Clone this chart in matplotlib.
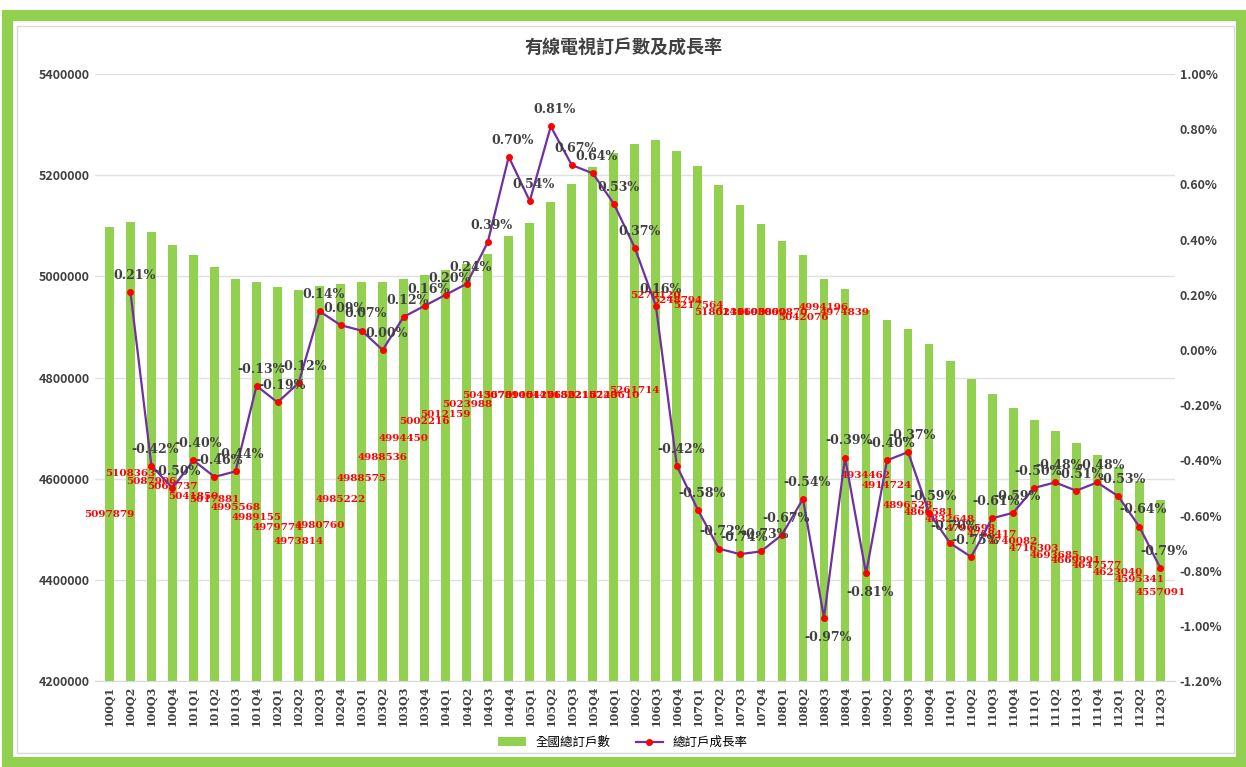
import matplotlib.pyplot as plt
import matplotlib.patches as mpatches
from matplotlib.ticker import FuncFormatter

plt.rcParams['font.family'] = ['Noto Sans CJK TC', 'DejaVu Sans']

# quarters 100Q1 .. 112Q3
quarters = [f'{y}Q{q}' for y in range(100, 113) for q in range(1, 5)][:51]

# total subscribers (bars)
subscribers = [5097879, 5108363, 5087906, 5062737, 5041850, 5017881, 4995568, 4989155,
               4979774, 4973814, 4980760, 4985222, 4988575, 4988536, 4994450, 5002216,
               5012159, 5023988, 5043670, 5078940, 5106420, 5147650, 5182210, 5215720,
               5243610, 5261714, 5270120, 5248794, 5217564, 5180230, 5141690, 5103890,
               5069870, 5042076, 4994196, 4974839, 4934462, 4914724, 4896528, 4866581,
               4832648, 4796598, 4768417, 4740082, 4716303, 4693685, 4669991, 4647577,
               4623040, 4595341, 4557091]

# growth rate (%), first quarter has none
growth = [None, 0.21, -0.42, -0.50, -0.40, -0.46, -0.44, -0.13, -0.19, -0.12, 0.14, 0.09,
          0.07, 0.00, 0.12, 0.16, 0.20, 0.24, 0.39, 0.70, 0.54, 0.81, 0.67, 0.64, 0.53,
          0.37, 0.16, -0.42, -0.58, -0.72, -0.74, -0.73, -0.67, -0.54, -0.97, -0.39,
          -0.81, -0.40, -0.37, -0.59, -0.70, -0.75, -0.61, -0.59, -0.50, -0.48, -0.51,
          -0.48, -0.53, -0.64, -0.79]

# where the red value labels sit (left-axis units)
label_y = [4530000, 4611000, 4595000, 4584000, 4564000, 4558000, 4544000, 4524000,
           4504000, 4475000, 4508000, 4558000, 4601000, 4641000, 4680000, 4714000,
           4726000, 4746000, 4765000, 4765000, 4765000, 4765000, 4765000, 4765000,
           4765000, 4775000, 4963000, 4953000, 4943000, 4928000, 4928000, 4928000,
           4928000, 4918000, 4939000, 4928000, 4607000, 4586000, 4548000, 4534000,
           4520000, 4502000, 4489000, 4475000, 4463000, 4449000, 4439000, 4429000,
           4415000, 4400000, 4376000]

num_font = 'DejaVu Serif'

fig = plt.figure(figsize=(12.46, 7.67), dpi=100)
fig.patches.append(mpatches.Rectangle((0.006, 0.007), 0.99, 0.973, transform=fig.transFigure,
                                      fill=False, edgecolor='#92d050', linewidth=8))
fig.patches.append(mpatches.Rectangle((0.014, 0.018), 0.976, 0.948, transform=fig.transFigure,
                                      fill=False, edgecolor='#d9d9d9', linewidth=1))

ax = fig.add_axes([0.076, 0.112, 0.867, 0.7915])
x = list(range(len(quarters)))
bars = ax.bar(x, subscribers, width=0.42, color='#92d050', zorder=2, label='全國總訂戶數')
ax.set_ylim(4200000, 5400000)
ax.set_yticks(range(4200000, 5400001, 200000))
ax.yaxis.set_major_formatter(FuncFormatter(lambda v, p: f'{int(v)}'))
ax.set_xlim(-0.7, len(quarters) - 0.3)
ax.set_xticks(x)
ax.set_xticklabels(quarters, rotation=90, fontsize=8, fontweight='bold', color='#404040',
                   family=num_font)
ax.tick_params(axis='y', labelsize=9, colors='#404040', length=0)
ax.tick_params(axis='x', length=0)
for lab in ax.get_yticklabels():
    lab.set_fontweight('bold')
ax.grid(axis='y', color='#e0e0e0', linewidth=1, zorder=0)
for s in ['top', 'left', 'right']:
    ax.spines[s].set_visible(False)
ax.spines['bottom'].set_color('#d9d9d9')

for i, v in enumerate(subscribers):
    ax.text(i, label_y[i], str(v), ha='center', va='center', fontsize=7.5, family=num_font,
            fontweight='bold', color='red', zorder=5)

ax2 = ax.twinx()
gx = [i for i, g in enumerate(growth) if g is not None]
gy = [g / 100 for g in growth if g is not None]
line, = ax2.plot(gx, gy, color='#7030a0', linewidth=1.6, marker='o', markersize=4,
                 markerfacecolor='red', markeredgecolor='red', zorder=4, label='總訂戶成長率')
ax2.set_ylim(-0.012, 0.010)
ax2.set_yticks([i / 1000 for i in range(-12, 11, 2)])
ax2.yaxis.set_major_formatter(FuncFormatter(lambda v, p: f'{v * 100:.2f}%'))
ax2.tick_params(axis='y', labelsize=9, colors='#404040', length=0)
for lab in ax2.get_yticklabels():
    lab.set_fontweight('bold')
for s in ax2.spines.values():
    s.set_visible(False)

below = {'108Q3', '109Q1'}
for i, g in zip(gx, gy):
    off = -14 if quarters[i] in below else 12
    ax2.annotate(f'{g * 100:.2f}%', (i, g), xytext=(3, off), textcoords='offset points',
                 ha='center', va='center', fontsize=9, fontweight='bold', color='#404040',
                 family=num_font, zorder=6)

fig.text(0.5, 0.937, '有線電視訂戶數及成長率', ha='center', va='center', fontsize=13,
         fontweight='bold', color='#404040')
fig.legend(handles=[bars, line], loc='center', bbox_to_anchor=(0.5, 0.032), ncol=2,
           frameon=False, fontsize=9, handlelength=2.2, columnspacing=2)

fig.savefig('out.png', dpi=100)
